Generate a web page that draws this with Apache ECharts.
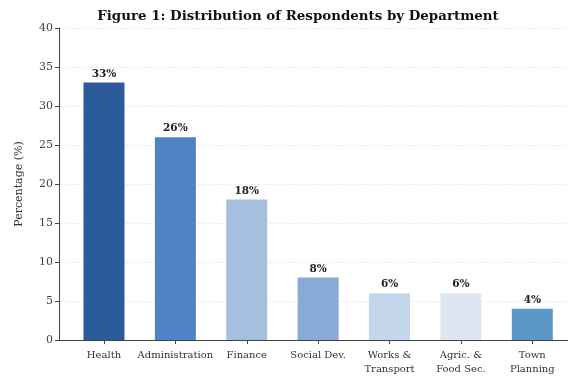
<!DOCTYPE html>
<html><head><meta charset="utf-8">
<script src="https://cdn.jsdelivr.net/npm/echarts@6/dist/echarts.min.js"></script>
<style>html,body{margin:0;padding:0;background:#fff}#c{width:568px;height:380px}</style>
</head><body><div id="c"></div>
<script>
const categories = ['Health','Administration','Finance','Social Dev.','Works &\nTransport','Agric. &\nFood Sec.','Town\nPlanning'];
const values = [33, 26, 18, 8, 6, 6, 4];
const colors = ['#2c5b9c','#4f84c4','#a5bfde','#88aad6','#c3d6eb','#dde6f1','#5b98c9'];
const yTicks = {min: 0, max: 40, interval: 5};
const positions = categories.map((c, i) => i);
const F = 'DejaVu Serif';
const chart = echarts.init(document.getElementById('c'));
chart.setOption({
  animation: false,
  title: {text: 'Figure 1: Distribution of Respondents by Department', left: 293, top: 5, textAlign: 'center',
    textStyle: {fontFamily: F, fontSize: 13.4, fontWeight: 'bold', color: '#111'}},
  grid: {left: 59, right: 0, top: 28, bottom: 40},
  xAxis: {type: 'value', min: -0.63, max: 6.5,
    splitLine: {show: false},
    axisLine: {onZero: false, lineStyle: {color: '#444', width: 1}},
    axisTick: {show: true, customValues: positions, length: 4, lineStyle: {color: '#444'}},
    axisLabel: {customValues: positions, formatter: v => categories[Math.round(v)],
      fontFamily: F, fontSize: 10, color: '#333', margin: 8, lineHeight: 14}},
  yAxis: {type: 'value', min: yTicks.min, max: yTicks.max, interval: yTicks.interval,
    name: 'Percentage (%)', nameLocation: 'middle', nameGap: 34,
    nameTextStyle: {fontFamily: F, fontSize: 11, color: '#333'},
    axisLine: {show: true, onZero: false, lineStyle: {color: '#444', width: 1}},
    axisTick: {show: true, length: 4, lineStyle: {color: '#444'}},
    axisLabel: {fontFamily: F, fontSize: 11, color: '#444', margin: 6},
    splitLine: {lineStyle: {color: '#eee', type: 'dashed'}}},
  series: [{type: 'bar', barWidth: 41,
    data: values.map((v, i) => ({value: [positions[i], v], itemStyle: {color: colors[i]}})),
    label: {show: true, position: 'top', formatter: p => p.value[1] + '%', fontFamily: F, fontSize: 10.5, fontWeight: 'bold', color: '#222', distance: 3}}]
});
</script></body></html>
